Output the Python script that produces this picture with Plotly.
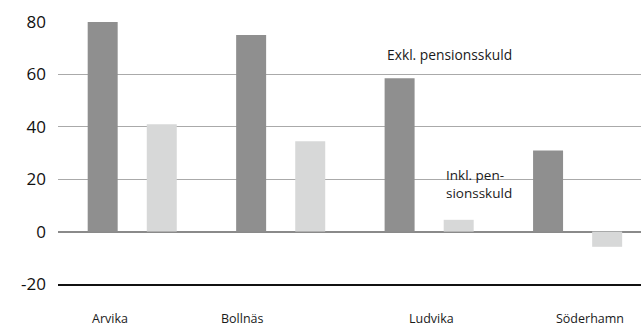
import plotly.graph_objects as go

# Kommuner och nettoskuld/tillgångar (procent)
kommuner = ["Arvika", "Bollnäs", "Ludvika", "Söderhamn"]
exkl_pensionsskuld = [80, 75, 58.5, 31]
inkl_pensionsskuld = [41, 34.5, 4.5, -5.8]
y_ticks = [-20, 0, 20, 40, 60, 80]

FONT = "Open Sans"
DARK = "#8f8f8f"
LIGHT = "#d7d8d8"

# Horizontal nudges (px) for the category labels under the axis
label_shift = [-22, -38, 2, 12]

x = list(range(len(kommuner)))

fig = go.Figure()
fig.add_trace(go.Bar(x=x, y=exkl_pensionsskuld, marker_color=DARK,
                     marker_line_width=0, width=0.202, offset=-0.30,
                     name="Exkl. pensionsskuld"))
fig.add_trace(go.Bar(x=x, y=inkl_pensionsskuld, marker_color=LIGHT,
                     marker_line_width=0, width=0.202, offset=0.098,
                     name="Inkl. pensionsskuld"))

fig.update_layout(
    width=641, height=327,
    margin=dict(l=58, r=0, t=22, b=43),
    paper_bgcolor="white", plot_bgcolor="white",
    barmode="overlay",
    showlegend=False,
    font=dict(family=FONT, color="#1a1a1a"),
)

fig.update_xaxes(
    range=[-0.5, 3.427], showticklabels=False, showgrid=False,
    zeroline=False, showline=True, linecolor="#111111", linewidth=1.5,
    ticks="",
)
fig.update_yaxes(
    range=[-20, 80], tickvals=y_ticks, ticktext=[str(v) for v in y_ticks],
    showgrid=True, gridcolor="#aaaaaa", gridwidth=1.3,
    zeroline=True, zerolinecolor="#8a8a8a", zerolinewidth=2,
    tickfont=dict(size=17, family=FONT, color="#111111"),
    ticks="", ticklabelstandoff=11, showline=False,
)

for i, name in enumerate(kommuner):
    fig.add_annotation(
        x=x[i], y=0, xref="x", yref="paper", yanchor="top",
        yshift=-24, xshift=label_shift[i], text=name, showarrow=False,
        font=dict(size=12.5, family=FONT, color="#1a1a1a"),
    )

fig.add_annotation(
    x=385, y=55, xref="paper", yref="paper", text="Exkl. pensionsskuld",
    showarrow=False, xanchor="left", yanchor="middle",
    font=dict(size=13.8, family=FONT, color="#1a1a1a"),
)
fig.add_annotation(
    x=444, y=184, xref="paper", yref="paper", text="Inkl. pen-<br>sionsskuld",
    showarrow=False, xanchor="left", yanchor="middle", align="left",
    font=dict(size=13.5, family=FONT, color="#1a1a1a"),
)

# Convert pixel-placed annotations to paper fractions
for a in fig.layout.annotations:
    if a.xref == "paper" and a.x > 1:
        a.x = (a.x - 58) / (641 - 58)
        a.y = 1 - (a.y - 22) / (327 - 22 - 43)

fig.write_html("out.html")
